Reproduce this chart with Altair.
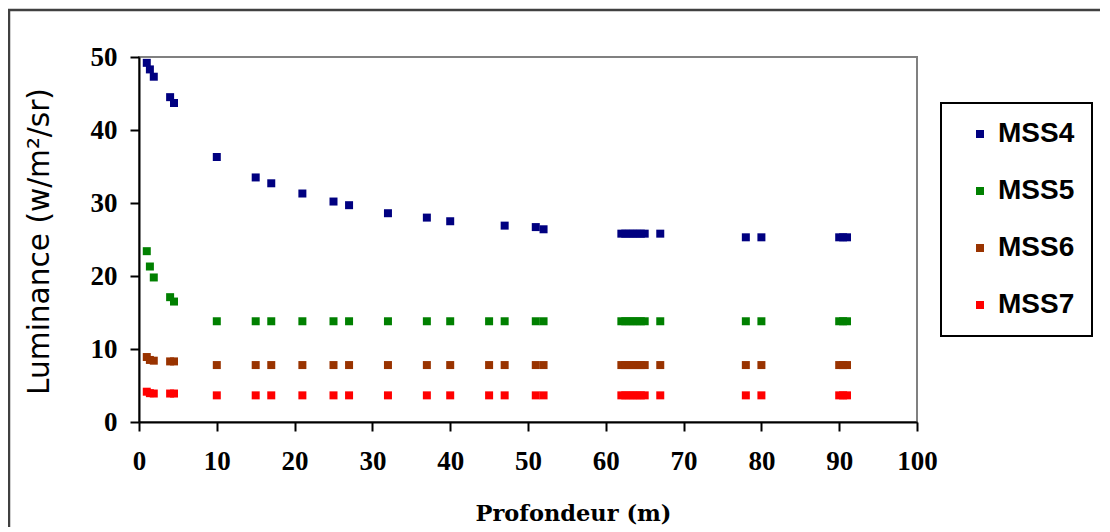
import altair as alt
import pandas as pd

# ---- data ----
series = ["MSS4", "MSS5", "MSS6", "MSS7"]
colors = ["#000080", "#008000", "#993300", "#FF0000"]

depth_mss4 = [1, 1.4, 1.9, 4, 4.5, 10, 15, 17, 21, 25, 27, 32, 37, 40, 47, 51, 52,
              62, 62.5, 63, 63.5, 64, 64.5, 65, 67, 78, 80, 90, 90.5, 91]
lum_mss4 = [49.2, 48.3, 47.3, 44.5, 43.7, 36.3, 33.5, 32.7, 31.3, 30.2, 29.7, 28.6, 28.0, 27.5, 26.9, 26.7, 26.4,
            25.8, 25.8, 25.8, 25.8, 25.8, 25.8, 25.8, 25.8, 25.3, 25.3, 25.3, 25.3, 25.3]

depth_other = [1, 1.4, 1.9, 4, 4.5, 10, 15, 17, 21, 25, 27, 32, 37, 40, 45, 47, 51, 52,
               62, 62.5, 63, 63.5, 64, 64.5, 65, 67, 78, 80, 90, 90.5, 91]
lum_mss5 = [23.4, 21.3, 19.8, 17.1, 16.5] + [13.8] * 26
lum_mss6 = [8.9, 8.5, 8.4, 8.3, 8.3] + [7.8] * 26
lum_mss7 = [4.15, 3.95, 3.9, 3.9, 3.9] + [3.65] * 26

x_ticks = [0, 10, 20, 30, 40, 50, 60, 70, 80, 90, 100]
y_ticks = [0, 10, 20, 30, 40, 50]

rows = []
for d, v in zip(depth_mss4, lum_mss4):
    rows.append({"depth": d, "lum": v, "band": "MSS4"})
for name, vals in [("MSS5", lum_mss5), ("MSS6", lum_mss6), ("MSS7", lum_mss7)]:
    for d, v in zip(depth_other, vals):
        rows.append({"depth": d, "lum": v, "band": name})
df = pd.DataFrame(rows)

points = alt.Chart(df).mark_square(size=64, opacity=1, strokeWidth=0).encode(
    x=alt.X("depth:Q",
            scale=alt.Scale(domain=[0, 100], nice=False),
            axis=alt.Axis(values=x_ticks, title="Profondeur (m)", grid=False,
                          labelFont="Liberation Serif", labelFontWeight="bold", labelFontSize=27,
                          labelColor="black", labelPadding=17, labelOverlap=False, labelFlush=False,
                          tickColor="black", tickWidth=2, tickSize=9,
                          domainColor="black", domainWidth=2,
                          titleFont="DejaVu Serif", titleFontWeight="bold", titleFontSize=22.5,
                          titleColor="black", titleX=434, titleY=98,
                          titleAlign="center", titleBaseline="alphabetic")),
    y=alt.Y("lum:Q",
            scale=alt.Scale(domain=[0, 50], nice=False),
            axis=alt.Axis(values=y_ticks, title="Luminance (w/m²/sr)", grid=False,
                          labelFont="Liberation Serif", labelFontWeight="bold", labelFontSize=27,
                          labelColor="black", labelPadding=13, labelOverlap=False, labelFlush=False,
                          tickColor="black", tickWidth=2, tickSize=9,
                          domainColor="black", domainWidth=2,
                          titleFont="DejaVu Sans", titleFontWeight="normal", titleFontSize=29.6,
                          titleColor="black", titleX=-91, titleY=184,
                          titleAngle=270, titleAlign="center", titleBaseline="alphabetic")),
    color=alt.Color("band:N",
                    scale=alt.Scale(domain=series, range=colors),
                    legend=alt.Legend(title=None, orient="none", legendX=802, legendY=46,
                                      symbolType="square", symbolSize=64, symbolStrokeWidth=0,
                                      symbolOffset=8, labelOffset=4,
                                      labelFont="Liberation Sans", labelFontWeight="bold",
                                      labelFontSize=28, labelColor="black",
                                      rowPadding=29, padding=17, strokeColor="black")),
)

frame = alt.Chart(pd.DataFrame({"k": [0]})).mark_rect(
    fill=None, stroke="#404040", strokeWidth=2.5, clip=False
).encode(x=alt.value(-130), x2=alt.value(1300), y=alt.value(-47), y2=alt.value(900))

chart = alt.layer(points, frame).properties(
    width=778, height=365,
    autosize=alt.AutoSizeParams(type="none"),
    padding={"left": 131, "top": 49, "right": 183, "bottom": 105},
    background="white",
).configure_view(
    stroke="#808080", strokeWidth=2
).configure_legend(
    strokeWidth=2
)

chart.save("out.html", embed_options={"renderer": "svg", "actions": False})
